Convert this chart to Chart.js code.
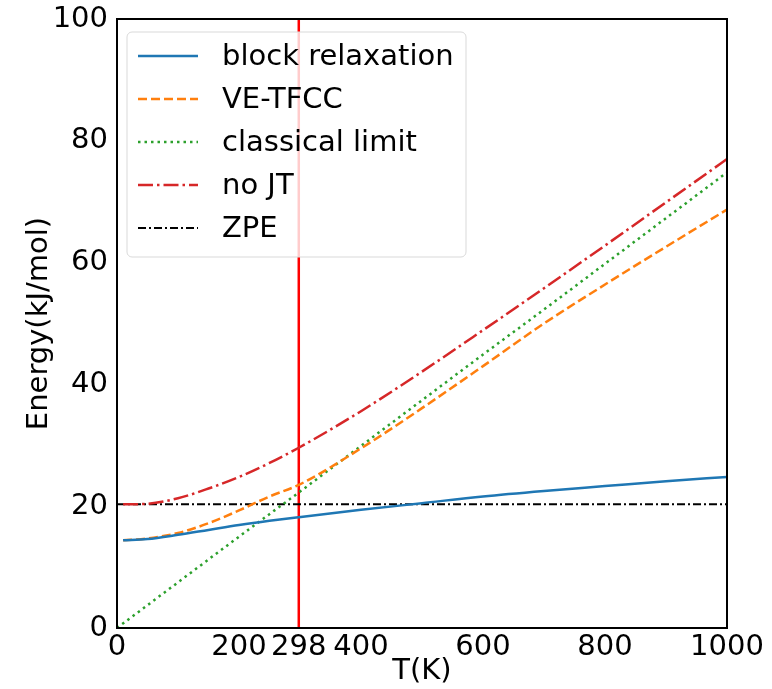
<!DOCTYPE html>
<html>
<head>
<meta charset="utf-8">
<script src="https://cdn.jsdelivr.net/npm/chart.js@4/dist/chart.umd.min.js"></script>
<style>
  html, body { margin: 0; padding: 0; background: #fff; }
  #wrap { width: 772px; height: 689px; }
</style>
</head>
<body>
<div id="wrap"><canvas id="energyChart" width="772" height="689"></canvas></div>
<script>
const temps = [10, 50, 100, 150, 200, 250, 298, 400, 500, 600, 700, 800, 900, 1000];
const blockRelax = [14.4, 14.6, 15.3, 16.1, 16.9, 17.6, 18.2, 19.4, 20.5, 21.6, 22.5, 23.3, 24.1, 24.8];
const veTfcc = [14.4, 14.7, 15.6, 17.2, 19.3, 21.6, 23.5, 29.5, 36.1, 43.0, 50.0, 56.4, 62.6, 68.7];
const noJT = [20.3, 20.4, 21.3, 22.9, 24.8, 27.1, 29.6, 35.6, 42.1, 48.9, 55.8, 62.8, 69.9, 77.0];

const classicalTemps = [0, 100, 200, 300, 400, 500, 600, 700, 800, 900, 1000];
const classical = [0, 7.5, 15.0, 22.4, 29.9, 37.4, 44.9, 52.3, 59.8, 67.3, 74.8];

const zpeTemps = [0, 1000];
const zpe = [20.3, 20.3];

const roomTemp = 298;
const xTicks = [0, 200, 298, 400, 600, 800, 1000];
const yTicks = [0, 20, 40, 60, 80, 100];

const pts = (xs, ys) => xs.map((x, i) => ({ x: x, y: ys[i] }));
const FONT = "'DejaVu Sans', sans-serif";
const FS = 29;

// matplotlib-style legend inside the axes
const innerLegend = {
    id: 'innerLegend',
    afterDraw(chart) {
        const ctx = chart.ctx;
        const area = chart.chartArea;
        const items = chart.data.datasets.filter(d => d.label);
        const x0 = area.left + 10, y0 = area.top + 13;
        const w = 339, h = 225, rowH = 43;
        ctx.save();
        ctx.beginPath();
        ctx.roundRect(x0, y0, w, h, 5);
        ctx.fillStyle = 'rgba(255,255,255,0.8)';
        ctx.fill();
        ctx.strokeStyle = '#d9d9d9';
        ctx.lineWidth = 1;
        ctx.stroke();
        ctx.font = FS + 'px ' + FONT;
        ctx.textBaseline = 'middle';
        items.forEach((d, i) => {
            const y = y0 + 24 + i * rowH;
            ctx.beginPath();
            ctx.setLineDash(d.borderDash || []);
            ctx.strokeStyle = d.borderColor;
            ctx.lineWidth = d.borderWidth;
            ctx.moveTo(x0 + 11, y);
            ctx.lineTo(x0 + 71, y);
            ctx.stroke();
            ctx.setLineDash([]);
            ctx.fillStyle = '#000';
            ctx.fillText(d.label, x0 + 95, y + 1);
        });
        ctx.restore();
    }
};

// black box around the plot area
const frame = {
    id: 'frame',
    afterDatasetsDraw(chart) {
        const a = chart.chartArea;
        const ctx = chart.ctx;
        ctx.save();
        ctx.strokeStyle = '#000';
        ctx.lineWidth = 2;
        ctx.strokeRect(a.left, a.top, a.right - a.left, a.bottom - a.top);
        ctx.restore();
    }
};

const lineBase = { pointRadius: 0, fill: false, cubicInterpolationMode: 'monotone' };

new Chart(document.getElementById('energyChart').getContext('2d'), {
    type: 'line',
    data: {
        datasets: [
            { ...lineBase, label: 'block relaxation', data: pts(temps, blockRelax),
              borderColor: '#1f77b4', borderWidth: 2.5 },
            { ...lineBase, label: 'VE-TFCC', data: pts(temps, veTfcc),
              borderColor: '#ff7f0e', borderWidth: 2.5, borderDash: [9, 4] },
            { ...lineBase, label: 'classical limit', data: pts(classicalTemps, classical),
              borderColor: '#2ca02c', borderWidth: 2.5, borderDash: [2.5, 4] },
            { ...lineBase, label: 'no JT', data: pts(temps, noJT),
              borderColor: '#d62728', borderWidth: 2.5, borderDash: [15, 4, 2.5, 4] },
            { ...lineBase, label: 'ZPE', data: pts(zpeTemps, zpe),
              borderColor: '#000000', borderWidth: 2, borderDash: [8, 3, 2, 3] },
            { ...lineBase, label: '', data: [{ x: roomTemp, y: 0 }, { x: roomTemp, y: 100 }],
              borderColor: '#ff0000', borderWidth: 2.5 }
        ]
    },
    options: {
        responsive: false,
        animation: false,
        layout: { padding: { top: 19, right: 45, left: 0, bottom: 0 } },
        plugins: { legend: { display: false }, tooltip: { enabled: false } },
        scales: {
            x: {
                type: 'linear',
                min: 0, max: 1000,
                grid: { display: false, drawTicks: false, tickLength: 0 },
                border: { display: false },
                afterBuildTicks: s => { s.ticks = xTicks.map(v => ({ value: v })); },
                afterFit: s => { s.height = 61; },
                ticks: {
                    autoSkip: false, maxRotation: 0, padding: 2,
                    color: '#000', font: { family: FONT, size: FS },
                    callback: v => String(v)
                },
                title: {
                    display: true, text: 'T(K)', color: '#000',
                    font: { family: FONT, size: FS }, padding: { top: 0, bottom: 0 }
                }
            },
            y: {
                min: 0, max: 100,
                grid: { display: false, drawTicks: false, tickLength: 0 },
                border: { display: false },
                afterBuildTicks: s => { s.ticks = yTicks.map(v => ({ value: v })); },
                afterFit: s => { s.width = 117; },
                ticks: {
                    padding: 9, color: '#000', font: { family: FONT, size: FS, lineHeight: 0.6 },
                    callback: v => String(v)
                },
                title: {
                    display: true, text: 'Energy(kJ/mol)', color: '#000',
                    font: { family: FONT, size: FS }, padding: { top: 22, bottom: 0 }
                }
            }
        }
    },
    plugins: [frame, innerLegend]
});
</script>
</body>
</html>
